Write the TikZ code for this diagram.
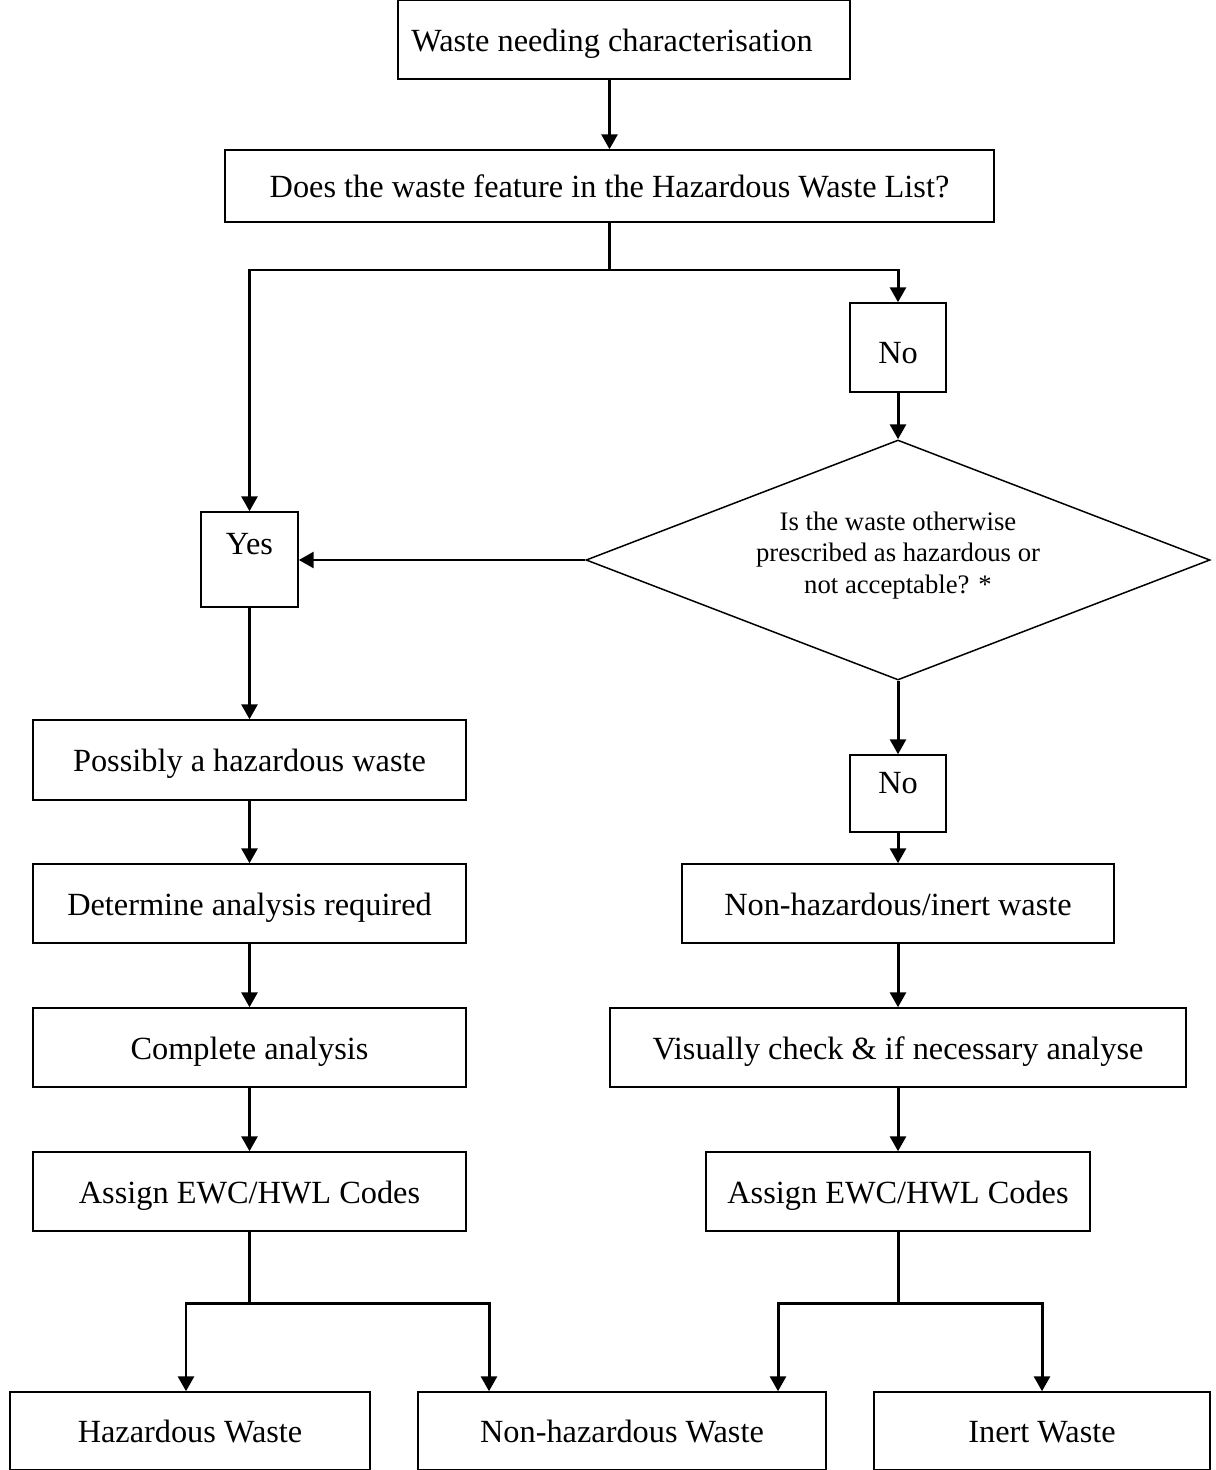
\documentclass[tikz,border=0pt]{standalone}
\usepackage{fontspec}
\setmainfont{Liberation Serif}
\usetikzlibrary{shapes.geometric,arrows.meta}
\newcommand\px{0.02cm}
\tikzset{
  box/.style={draw, line width=0.85pt, font=\fontsize{18.4}{22}\selectfont, inner sep=0pt,
    text height=0.61cm, text depth=0.14cm},
  uptext/.style={text height=0.45cm, text depth=0.65cm},
  decide/.style={draw, line width=0.85pt, diamond, aspect=2.6, inner sep=0pt, align=center,
    font=\fontsize{15.2}{17.8}\selectfont},
  arr/.style={line width=1.7pt, -{Triangle[width=0.32cm,length=0.3cm]}},
  ln/.style={line width=1.7pt}
}
\begin{document}
\begin{tikzpicture}[x=\px, y=-\px]
  \useasboundingbox (0,0) rectangle (1215,1470);
  % top of the chart
  \node[box, minimum width=452*\px, minimum height=79*\px] (start) at (624,39.5) {Waste needing characterisation\hspace*{0.48cm}};
  \node[box, minimum width=769*\px, minimum height=72*\px] (hwl) at (609.5,186) {Does the waste feature in the Hazardous Waste List?};
  \node[box, text height=0.77cm, minimum width=96*\px, minimum height=89*\px] (no1) at (898,347.5) {No};
  \node[decide, minimum width=624*\px, minimum height=240*\px] (other) at (898,560) {Is the waste otherwise\\prescribed as hazardous or\\not acceptable? *\rule[-0.3cm]{0pt}{0.3cm}};
  \node[box, uptext, minimum width=97*\px, minimum height=95*\px] (yes) at (249.5,559.5) {Yes};
  \node[box, uptext, text depth=0.45cm, minimum width=96*\px, minimum height=77*\px] (no2) at (898,793.5) {No};
  % left column
  \node[box, minimum width=433*\px, minimum height=80*\px] (poss) at (249.5,760) {Possibly a hazardous waste};
  \node[box, minimum width=433*\px, minimum height=79*\px] (det) at (249.5,903.5) {Determine analysis required};
  \node[box, minimum width=433*\px, minimum height=79*\px] (comp) at (249.5,1047.5) {Complete analysis};
  \node[box, minimum width=433*\px, minimum height=79*\px] (codesL) at (249.5,1191.5) {Assign EWC/HWL Codes};
  % right column
  \node[box, minimum width=432*\px, minimum height=79*\px] (inertish) at (898,903.5) {Non-hazardous/inert waste};
  \node[box, minimum width=576*\px, minimum height=79*\px] (check) at (898,1047.5) {Visually check \& if necessary analyse};
  \node[box, minimum width=384*\px, minimum height=79*\px] (codesR) at (898,1191.5) {Assign EWC/HWL Codes};
  % results
  \node[box, minimum width=360*\px, minimum height=78*\px] (haz) at (190,1431) {Hazardous Waste};
  \node[box, minimum width=408*\px, minimum height=78*\px] (nonhaz) at (622,1431) {Non-hazardous Waste};
  \node[box, minimum width=336*\px, minimum height=78*\px] (inert) at (1042,1431) {Inert Waste};
  % branch points
  \coordinate (split) at (609.5,270);
  \coordinate (splitL) at (249.5,1303);
  \coordinate (splitR) at (898,1303);
  \coordinate (toHaz) at (186,1303);
  \coordinate (toNonL) at (489,1303);
  \coordinate (toNonR) at (778,1303);
  \coordinate (toInert) at (1042,1303);
  % connectors
  \draw[arr] (start.south -| hwl.north) -- (hwl.north);
  \draw[ln] (hwl.south) -- (split);
  \draw[arr] (split) -| (yes.north);
  \draw[arr] (split) -| (no1.north);
  \draw[arr] (no1.south) -- (other.north);
  \draw[arr] (other.west) -- (other.west -| yes.east);
  \draw[arr] (other.south) -- (no2.north);
  \draw[arr] (yes.south) -- (poss.north);
  \foreach \a/\b in {poss/det, det/comp, comp/codesL, no2/inertish, inertish/check, check/codesR}
    \draw[arr] (\a.south) -- (\b.north);
  \draw[ln] (codesL.south) -- (splitL);
  \draw[ln] (codesR.south) -- (splitR);
  \draw[arr] (splitL) -- (toHaz) -- (toHaz |- haz.north);
  \draw[arr] (splitL) -- (toNonL) -- (toNonL |- nonhaz.north);
  \draw[arr] (splitR) -- (toNonR) -- (toNonR |- nonhaz.north);
  \draw[arr] (splitR) -- (toInert) -- (inert.north);
\end{tikzpicture}
\end{document}
